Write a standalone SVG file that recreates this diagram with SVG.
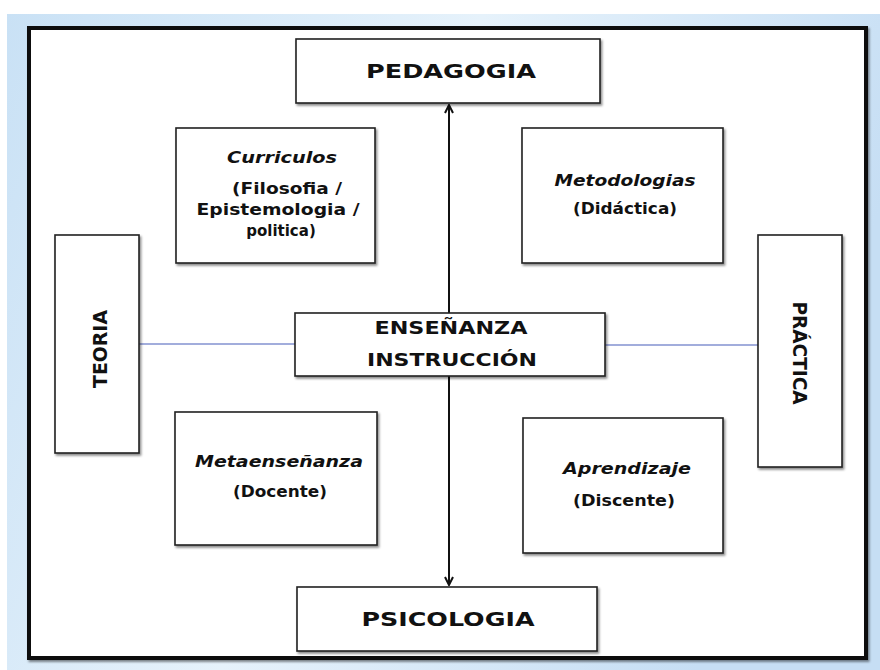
<svg xmlns="http://www.w3.org/2000/svg" width="880" height="670" viewBox="0 0 880 670">
<defs>
  <linearGradient id="bg" x1="0" y1="0" x2="1" y2="0.3">
    <stop offset="0" stop-color="#c9e1f5"/>
    <stop offset="0.5" stop-color="#e6f2fb"/>
    <stop offset="1" stop-color="#c6def4"/>
  </linearGradient>
  <filter id="sh" x="-10%" y="-10%" width="120%" height="120%">
    <feDropShadow dx="1.5" dy="2" stdDeviation="1" flood-color="#000" flood-opacity="0.45"/>
  </filter>
  <marker id="ah" viewBox="0 0 10 10" refX="9" refY="5" markerWidth="10" markerHeight="10" markerUnits="userSpaceOnUse" orient="auto-start-reverse">
    <path d="M1,1 L9,5 L1,9" fill="none" stroke="#111" stroke-width="2"/>
  </marker>
  <style>
    .box{fill:#fff;stroke:#222;stroke-width:1.6;filter:url(#sh)}
    text{font-family:"DejaVu Sans","Liberation Sans",sans-serif;font-weight:bold;fill:#111;text-anchor:middle}
    .big{font-size:19px}
    .mid{font-size:17px}
    .sm{font-size:15px}
    .it{font-style:italic}
    .blue{stroke:#8392d0;stroke-width:1.5;fill:none}
    .arr{stroke:#111;stroke-width:2;fill:none}
  </style>
</defs>
<rect x="0" y="0" width="880" height="670" fill="#fff"/>
<rect x="7" y="14" width="873" height="656" fill="url(#bg)"/>
<rect x="29" y="28" width="837" height="630" fill="#fff" stroke="#111" stroke-width="4" filter="url(#sh)"/>

<g id="connectors">
  <line class="arr" x1="449" y1="313" x2="449" y2="105" marker-end="url(#ah)"/>
  <line class="arr" x1="449" y1="376" x2="449" y2="585" marker-end="url(#ah)"/>
  <line class="blue" x1="139" y1="344" x2="295" y2="344"/>
  <line class="blue" x1="605" y1="345" x2="758" y2="345"/>
</g>

<g id="pedagogia">
  <rect class="box" x="296" y="39" width="304" height="64"/>
  <text class="big" x="451" y="78" textLength="170" lengthAdjust="spacingAndGlyphs">PEDAGOGIA</text>
</g>

<g id="psicologia">
  <rect class="box" x="297" y="587" width="300" height="64"/>
  <text class="big" x="448" y="626" font-size="20" textLength="173" lengthAdjust="spacingAndGlyphs">PSICOLOGIA</text>
</g>

<g id="curriculos">
  <rect class="box" x="176" y="128" width="199" height="135"/>
  <text class="sm it" x="282" y="163" textLength="110" lengthAdjust="spacingAndGlyphs">Curriculos</text>
  <text class="sm" x="287" y="194" textLength="110" lengthAdjust="spacingAndGlyphs">(Filosofia /</text>
  <text class="sm" x="278" y="215" textLength="163" lengthAdjust="spacingAndGlyphs">Epistemologia /</text>
  <text class="sm" x="281" y="236">politica)</text>
</g>

<g id="metodologias">
  <rect class="box" x="522" y="128" width="201" height="135"/>
  <text class="sm it" x="625" y="186" textLength="141" lengthAdjust="spacingAndGlyphs">Metodologias</text>
  <text class="sm" x="625" y="214" textLength="104" lengthAdjust="spacingAndGlyphs">(Didáctica)</text>
</g>

<g id="teoria">
  <rect class="box" x="55" y="235" width="84" height="218"/>
  <text class="big" transform="translate(107,349) rotate(-90)" x="0" y="0" font-size="20" textLength="78" lengthAdjust="spacingAndGlyphs">TEORIA</text>
</g>

<g id="practica">
  <rect class="box" x="758" y="235" width="84" height="232"/>
  <text class="big" transform="translate(793,353) rotate(90)" x="0" y="0" font-size="20" textLength="103" lengthAdjust="spacingAndGlyphs">PRÁCTICA</text>
</g>

<g id="ensenanza">
  <rect class="box" x="295" y="313" width="310" height="63"/>
  <text class="mid" x="451" y="334" textLength="153" lengthAdjust="spacingAndGlyphs">ENSEÑANZA</text>
  <text class="mid" x="452" y="366" textLength="170" lengthAdjust="spacingAndGlyphs">INSTRUCCIÓN</text>
</g>

<g id="metaensenanza">
  <rect class="box" x="175" y="412" width="202" height="133"/>
  <text class="sm it" x="279" y="467" textLength="168" lengthAdjust="spacingAndGlyphs">Metaenseñanza</text>
  <text class="sm" x="280" y="497" textLength="94" lengthAdjust="spacingAndGlyphs">(Docente)</text>
</g>

<g id="aprendizaje">
  <rect class="box" x="523" y="418" width="200" height="135"/>
  <text class="sm it" x="627" y="474" textLength="128" lengthAdjust="spacingAndGlyphs">Aprendizaje</text>
  <text class="sm" x="624" y="506" textLength="102" lengthAdjust="spacingAndGlyphs">(Discente)</text>
</g>
</svg>
